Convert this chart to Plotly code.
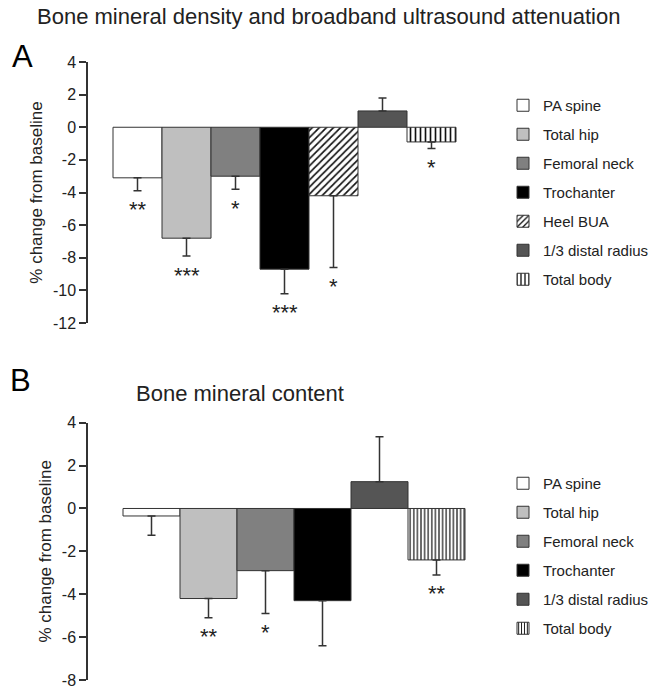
import plotly.graph_objects as go

W, H = 660, 691

# ---------------- data ----------------
cats_A = ["PA spine", "Total hip", "Femoral neck", "Trochanter",
          "Heel BUA", "1/3 distal radius", "Total body"]
vals_A = [-3.1, -6.8, -3.0, -8.7, -4.2, 1.0, -0.9]
err_A = [0.8, 1.1, 0.8, 1.5, 4.4, 0.8, 0.4]
stars_A = ["**", "***", "*", "***", "*", "", "*"]

cats_B = ["PA spine", "Total hip", "Femoral neck", "Trochanter",
          "1/3 distal radius", "Total body"]
vals_B = [-0.35, -4.2, -2.9, -4.3, 1.25, -2.4]
err_B = [0.9, 0.9, 2.0, 2.1, 2.1, 0.7]
stars_B = ["", "**", "*", "", "", "**"]

yticks_A = [4, 2, 0, -2, -4, -6, -8, -10, -12]
yticks_B = [4, 2, 0, -2, -4, -6, -8]

# ---------------- styles ----------------
FONT = "Liberation Sans, Arial, sans-serif"
TXT = "#222222"
STYLE = {
    "PA spine": dict(color="#ffffff", shape=""),
    "Total hip": dict(color="#bfbfbf", shape=""),
    "Femoral neck": dict(color="#808080", shape=""),
    "Trochanter": dict(color="#000000", shape=""),
    "Heel BUA": dict(color="#ffffff", shape="/"),
    "1/3 distal radius": dict(color="#555555", shape=""),
    "Total body": dict(color="#ffffff", shape="|"),
}
EDGE = "#333333"


def px_x(p):
    return p / W


def px_y(p):
    return 1 - p / H


fig = go.Figure()


def add_panel(cats, vals, errs, stars, xa, ya, legend, prefix, psize):
    for i, (c, v, e) in enumerate(zip(cats, vals, errs)):
        st = STYLE[c]
        marker = dict(color=st["color"], line=dict(color=EDGE, width=1))
        if st["shape"]:
            marker["pattern"] = dict(shape=st["shape"], fgcolor="#111111", bgcolor="#ffffff",
                                     size=psize[st["shape"]], solidity=0.33,
                                     fillmode="replace")
        if v < 0:
            ey = dict(type="data", symmetric=False, array=[0], arrayminus=[e])
        else:
            ey = dict(type="data", symmetric=False, array=[e], arrayminus=[0])
        ey.update(color=EDGE, thickness=1.5, width=4)
        fig.add_trace(go.Bar(
            x=[i], y=[v], width=1, name=c, marker=marker, error_y=ey,
            xaxis=xa, yaxis=ya, legend=legend, legendgroup=prefix + str(i),
            showlegend=True, hoverinfo="skip",
        ))
        if stars[i]:
            cap = v - e if v < 0 else v + e
            fig.add_annotation(
                x=i, y=cap, xref=xa, yref=ya, text=stars[i], showarrow=False,
                xanchor="center", yanchor="middle", yshift=-19,
                font=dict(family=FONT, size=22, color=TXT),
            )


add_panel(cats_A, vals_A, err_A, stars_A, "x", "y", "legend", "A",
          {"/": 5, "|": 5})
add_panel(cats_B, vals_B, err_B, stars_B, "x2", "y2", "legend2", "B",
          {"|": 3.6})

# ---------------- axes ----------------
A_axis_x, A_bar0, A_barw = 88, 113, 49
A_y_top, A_y_bot = 62, 323
A_x_end = 470
A_range = [(A_axis_x - A_bar0) / A_barw - 0.5, (A_x_end - A_bar0) / A_barw - 0.5]

B_axis_x, B_bar0, B_barw = 88, 123, 57
B_y_top, B_y_bot = 422.7, 680
B_x_end = 494
B_range = [(B_axis_x - B_bar0) / B_barw - 0.5, (B_x_end - B_bar0) / B_barw - 0.5]

yaxis_common = dict(
    showline=True, linecolor=EDGE, linewidth=1.5, ticks="outside", ticklen=7,
    tickwidth=1.5, tickcolor=EDGE, showgrid=False, zeroline=False,
    tickfont=dict(family=FONT, size=16, color=TXT), ticklabeloverflow="allow",
    title=dict(text="% change from baseline", font=dict(family=FONT, size=17, color=TXT),
               standoff=6),
)

fig.update_layout(
    xaxis=dict(domain=[px_x(A_axis_x), px_x(A_x_end)], range=A_range, visible=False,
               anchor="y"),
    yaxis=dict(domain=[px_y(A_y_bot), px_y(A_y_top)], range=[-12, 4],
               tickvals=yticks_A, ticktext=[str(t) for t in yticks_A], anchor="x",
               **yaxis_common),
    xaxis2=dict(domain=[px_x(B_axis_x), px_x(B_x_end)], range=B_range, visible=False,
                anchor="y2"),
    yaxis2=dict(domain=[px_y(B_y_bot), px_y(B_y_top)], range=[-8, 4],
                tickvals=yticks_B, ticktext=[str(t) for t in yticks_B], anchor="x2",
                **yaxis_common),
)

legend_common = dict(
    font=dict(family=FONT, size=15, color=TXT),
    traceorder="grouped", tracegroupgap=6.5, bgcolor="rgba(0,0,0,0)",
    xanchor="left", yanchor="top", itemclick=False, itemdoubleclick=False,
)

fig.update_layout(
    width=W, height=H, margin=dict(l=0, r=0, t=0, b=0, autoexpand=False),
    paper_bgcolor="white", plot_bgcolor="white", barmode="overlay",
    font=dict(family=FONT, color=TXT),
    legend=dict(x=px_x(503), y=px_y(89), **legend_common),
    legend2=dict(x=px_x(503), y=px_y(467), **legend_common),
    showlegend=True,
)

# titles and panel letters
paper_text = dict(xref="paper", yref="paper", showarrow=False,
                  xanchor="center", yanchor="middle")
fig.add_annotation(x=px_x(328), y=px_y(17),
                   text="Bone mineral density and broadband ultrasound attenuation",
                   font=dict(family=FONT, size=22, color=TXT), **paper_text)
fig.add_annotation(x=px_x(240), y=px_y(393), text="Bone mineral content",
                   font=dict(family=FONT, size=22, color=TXT), **paper_text)
fig.add_annotation(x=px_x(22), y=px_y(56), text="A",
                   font=dict(family=FONT, size=31, color="#000000"), **paper_text)
fig.add_annotation(x=px_x(21), y=px_y(380), text="B",
                   font=dict(family=FONT, size=31, color="#000000"), **paper_text)

fig.write_html("out.html", config={"displayModeBar": False},
               post_script="document.body.style.margin='0';document.body.style.padding='0';")
